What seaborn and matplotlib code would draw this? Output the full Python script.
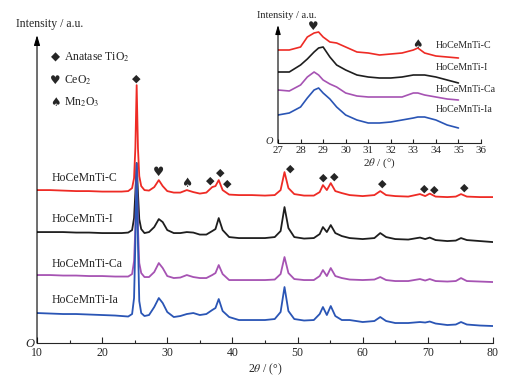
import numpy as np
import pandas as pd
import matplotlib
matplotlib.use("Agg")
import matplotlib.pyplot as plt
import seaborn as sns

# ---- main pattern, 2theta grid (deg) and stacked intensities (a.u.) ----
two_theta = [10, 12, 14, 16, 18, 20, 22, 23, 24, 24.6, 24.9, 25.1, 25.3, 25.5,
             25.7, 26.0, 26.5, 27.2, 28.0, 28.7, 29.3, 30.0, 31, 32, 33, 34, 35,
             36, 36.9, 37.4, 37.9, 38.5, 39.5, 41, 43, 45, 46.5, 47.4, 48.0, 48.6,
             49.5, 51, 52.5, 53.4, 53.9, 54.5, 55.1, 55.8, 56.8, 58, 60, 61.8,
             62.7, 63.6, 65, 67, 68.8, 69.6, 70.3, 71.2, 73, 74.3, 75.1, 76, 78, 80]

int_c = [153, 153, 152.5, 152, 152, 151.5, 151.5, 151.5, 152, 155, 165, 195, 258, 195,
         167, 157, 153, 152.5, 156, 163, 157, 152, 150.5, 150.5, 153, 151, 149.5,
         150.5, 156, 157, 163, 153, 148.5, 148, 148, 147.5, 148, 153, 171, 155,
         149, 147.5, 147.5, 151, 158, 153, 160, 152, 150, 148, 147, 148,
         152, 148, 147, 146.5, 149, 147, 149.5, 146.5, 146, 146.5, 149, 146.5, 146, 146]

int_i = [111, 111, 111, 110.5, 110.5, 110, 110, 110, 110.5, 113, 125, 150, 180, 150,
         124, 114, 110, 111, 116, 124, 121, 113, 110, 110, 111, 110.5, 108.5,
         108.5, 112, 114, 125, 113, 106, 105, 105, 105, 106, 112, 136, 115,
         106, 104.5, 105, 109, 116, 111, 118, 110, 107, 105, 104, 105,
         110, 106, 104, 103.5, 105.5, 104, 105.5, 103, 102, 102.5, 105, 103, 102, 101]

int_ca = [68, 68, 67.5, 67.5, 67, 67, 66.5, 66.5, 66.5, 69, 82, 115, 178, 115,
          80, 70, 66, 66, 71, 80, 75, 67, 65, 65.5, 68, 66, 65,
          65, 68, 70, 78, 69, 63, 63, 63, 63, 63.5, 69, 86, 70,
          64, 63, 63, 67, 73, 67, 75, 67, 65, 63.5, 63, 63.5,
          66, 63, 62, 62, 64, 62.5, 64, 62, 61.5, 62, 65, 62, 61.5, 61]

int_ia = [30, 29.5, 29, 29, 28.5, 28, 27.5, 27, 26.5, 29, 45, 100, 180, 100,
          42, 30, 27, 28, 36, 45, 40, 31, 26, 27, 29, 30, 28,
          29, 33, 35, 44, 32, 26, 23, 23, 23, 24, 31, 56, 32,
          24, 22.5, 23, 29, 36, 28, 37, 27, 23, 23, 21, 22,
          26, 22, 20, 20, 21, 20.5, 21.5, 19.5, 18, 18.5, 21, 18.5, 17.5, 17]

# ---- inset, 27-35 deg ----
inset_theta = [27, 27.5, 28, 28.3, 28.6, 28.8, 29.0, 29.3, 29.6, 30, 30.5, 31,
               31.5, 32, 32.5, 33, 33.2, 33.5, 34, 34.5, 35]
inset_c = [93, 93, 96, 106, 110, 111, 106, 101, 100, 96, 91, 90,
           88, 89, 90, 93, 95, 90, 87, 86, 85]
inset_i = [71, 71, 78, 84, 91, 95, 96, 86, 78, 73, 68, 66,
           65, 65, 66, 68, 68, 68, 66, 63, 60]
inset_ca = [53, 52, 58, 66, 71, 68, 63, 59, 56, 50, 47, 46,
            46, 46, 46, 50, 50, 48, 46, 44, 43]
inset_ia = [28, 30, 36, 45, 53, 55, 50, 44, 36, 28, 23, 20,
            20, 21, 23, 25, 26, 26, 23, 18, 15]

samples = ["HoCeMnTi-C", "HoCeMnTi-I", "HoCeMnTi-Ca", "HoCeMnTi-Ia"]
colors = ["#ee2b25", "#1e1e1e", "#a653b3", "#2a55b5"]
label_y = [165, 124, 79, 43]
inset_label_y = [98, 75, 53, 33]

# phase markers: (symbol, 2theta, height)
anatase_pos = [25.3, 36.56, 38.1, 39.17, 48.95, 53.9, 55.6, 62.96, 69.4, 70.95, 75.55]
anatase_h = [265, 162, 170, 159, 174, 165, 166, 159, 154, 153, 155]
ceo2_pos, ceo2_h = [28.73], [171]
mn2o3_pos, mn2o3_h = [33.03], [160]

sns.set_theme(style="ticks")
plt.rcParams["font.family"] = ["Liberation Serif", "DejaVu Serif"]
plt.rcParams["mathtext.fontset"] = "stix"

fig = plt.figure(figsize=(5.14, 3.81), dpi=100)
ax = fig.add_axes([0.072, 0.0997, 0.887, 0.808])

df = pd.DataFrame({"two_theta": two_theta, "HoCeMnTi-C": int_c, "HoCeMnTi-I": int_i,
                   "HoCeMnTi-Ca": int_ca, "HoCeMnTi-Ia": int_ia})
order = [1, 2, 3, 0]
for k in order:
    sns.lineplot(data=df, x="two_theta", y=samples[k], ax=ax, color=colors[k],
                 lw=1.3, estimator=None, sort=False)

for k, name in enumerate(samples):
    ax.text(12.3, label_y[k], name, fontsize=8.5, va="center", ha="left")

sym_font = ["DejaVu Sans"]
for x, h in zip(anatase_pos, anatase_h):
    ax.text(x, h, "\u25c6", fontsize=8, ha="center", va="center", family=sym_font)
for x, h in zip(ceo2_pos, ceo2_h):
    ax.text(x, h, "\u2665", fontsize=9, ha="center", va="center", family=sym_font)
for x, h in zip(mn2o3_pos, mn2o3_h):
    ax.text(x, h, "\u2660", fontsize=9, ha="center", va="center", family=sym_font)

# phase legend
leg_sym = ["\u25c6", "\u2665", "\u2660"]
leg_txt = ["Anatase TiO$_2$", "CeO$_2$", "Mn$_2$O$_3$"]
leg_y = [286, 263, 241]
for s, t, y in zip(leg_sym, leg_txt, leg_y):
    ax.text(12.76, y, s, fontsize=8.5, ha="center", va="center", family=sym_font)
    ax.text(14.15, y, t, fontsize=8.5, ha="left", va="center")

ax.set_xlim(10, 80)
ax.set_ylim(0, 308)
ax.set_xticks(range(10, 81, 10))
ax.set_xticks(range(15, 80, 10), minor=True)
ax.set_yticks([])
ax.tick_params(axis="x", direction="in", length=4, width=0.8, labelsize=8.5, pad=3)
ax.tick_params(axis="x", which="minor", direction="in", length=2.5, width=0.8)
for sp in ["top", "right", "left"]:
    ax.spines[sp].set_visible(False)
ax.spines["bottom"].set_linewidth(0.8)
ax.annotate("", xy=(0, 1.0), xytext=(0, 0), xycoords="axes fraction",
            arrowprops=dict(arrowstyle="-|>,head_length=0.5,head_width=0.15",
                            lw=0.8, color="black", shrinkA=0, shrinkB=0))
ax.set_xlabel(r"2$\theta$ / (°)", fontsize=8.5, labelpad=2)
ax.set_ylabel("")
fig.text(16 / 514, 1 - 24 / 381, "Intensity / a.u.", fontsize=8.5, ha="left", va="center")
fig.text(30 / 514, 1 - 344 / 381, "O", fontsize=9, style="italic", ha="center", va="center")

# ---- inset ----
ins = fig.add_axes([278 / 514, 1 - 143 / 381, 203 / 514, 118 / 381])
ins.patch.set_alpha(0)
dfi = pd.DataFrame({"two_theta": inset_theta, "HoCeMnTi-C": inset_c, "HoCeMnTi-I": inset_i,
                    "HoCeMnTi-Ca": inset_ca, "HoCeMnTi-Ia": inset_ia})
for k in order:
    sns.lineplot(data=dfi, x="two_theta", y=samples[k], ax=ins, color=colors[k],
                 lw=1.2, estimator=None, sort=False)
    ins.text(34.0, inset_label_y[k], samples[k], fontsize=7.2, va="center", ha="left")
ins.text(28.54, 116, "\u2665", fontsize=8.5, ha="center", va="center", family=sym_font)
ins.text(33.17, 99, "\u2660", fontsize=8.5, ha="center", va="center", family=sym_font)
ins.set_xlim(27, 36)
ins.set_ylim(0, 118)
ins.set_xticks(range(27, 37))
ins.set_yticks([])
ins.tick_params(axis="x", direction="in", length=3, width=0.8, labelsize=7.8, pad=2)
for sp in ["top", "right", "left"]:
    ins.spines[sp].set_visible(False)
ins.spines["bottom"].set_linewidth(0.8)
ins.annotate("", xy=(0, 1.0), xytext=(0, 0), xycoords="axes fraction",
             arrowprops=dict(arrowstyle="-|>,head_length=0.45,head_width=0.13",
                             lw=0.8, color="black", shrinkA=0, shrinkB=0))
ins.set_xlabel(r"2$\theta$ / (°)", fontsize=8, labelpad=1)
ins.set_ylabel("")
fig.text(257 / 514, 1 - 15 / 381, "Intensity / a.u.", fontsize=7.5, ha="left", va="center")
fig.text(269 / 514, 1 - 141 / 381, "O", fontsize=7.5, style="italic", ha="center", va="center")

fig.savefig("out.png", dpi=100)
